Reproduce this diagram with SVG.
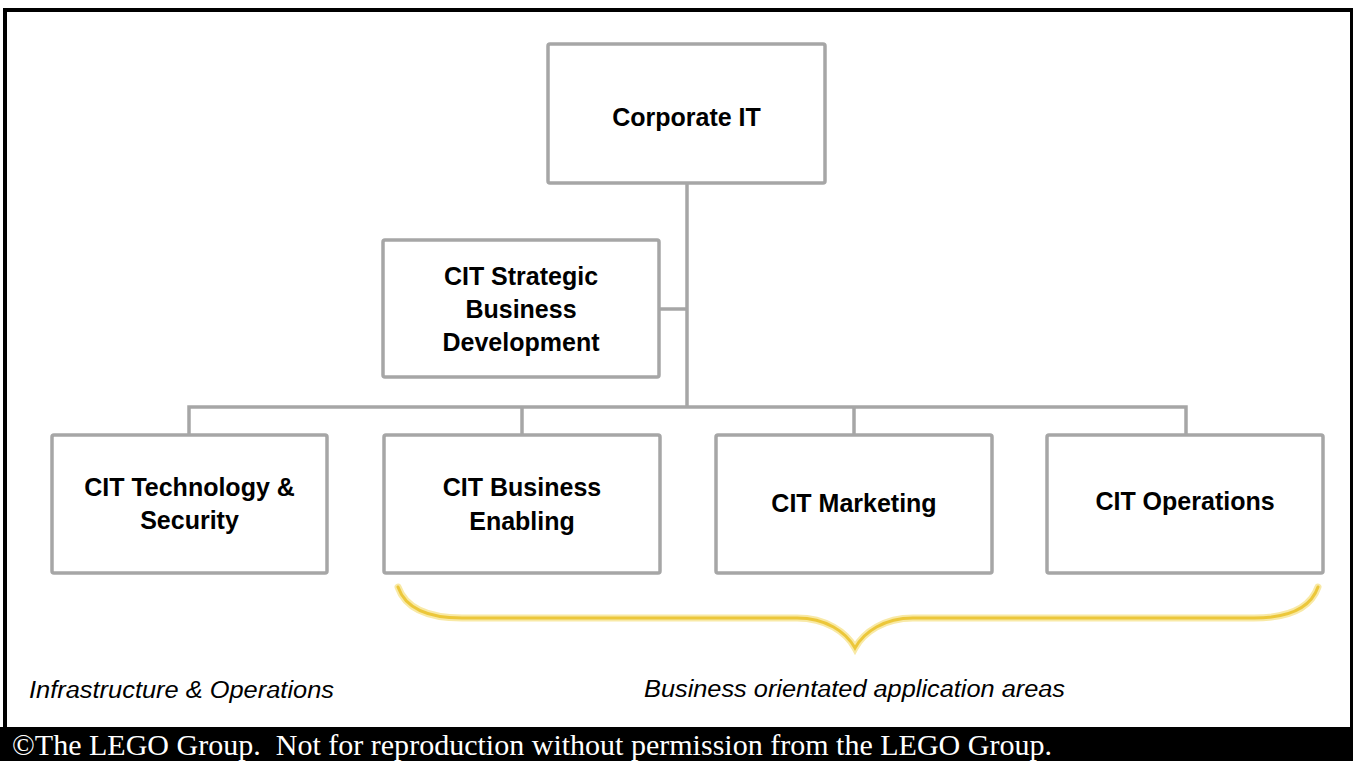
<svg xmlns="http://www.w3.org/2000/svg" width="1353" height="761" viewBox="0 0 1353 761">
<style>
.box{fill:#fff;stroke:#a6a6a6;stroke-width:3.5}
.lbl{font-family:"Liberation Sans",Arial,sans-serif;font-weight:bold;font-size:25px;fill:#000;text-anchor:middle}
.conn{fill:none;stroke:#a6a6a6;stroke-width:3.5}
.ital{font-family:"Liberation Sans",Arial,sans-serif;font-style:italic;font-size:23px;fill:#000}
</style>
<rect x="0" y="0" width="1353" height="761" fill="#fff"/>
<!-- frame -->
<rect x="4" y="8" width="1349" height="4" fill="#000"/>
<rect x="3" y="8" width="4" height="725" fill="#000"/>
<rect x="1350" y="8" width="3" height="725" fill="#000"/>
<rect x="0" y="727" width="1353" height="34" fill="#000"/>
<g id="connectors">
<path class="conn" d="M687 183 V407"/>
<path class="conn" d="M659 309 H687"/>
<path class="conn" d="M189 435 V407 H1186 V435"/>
<path class="conn" d="M522 407 V435"/>
<path class="conn" d="M854 407 V435"/>
</g>
<g id="corporate-it">
<rect class="box" x="548" y="44" width="277" height="139" rx="2"/>
<text class="lbl" x="686.5" y="126">Corporate IT</text>
</g>
<g id="cit-strategic">
<rect class="box" x="383" y="240" width="276" height="137" rx="2"/>
<text class="lbl" x="521" y="285">CIT Strategic</text>
<text class="lbl" x="521" y="318">Business</text>
<text class="lbl" x="521" y="351">Development</text>
</g>
<g id="cit-technology">
<rect class="box" x="52" y="435" width="275" height="138" rx="2"/>
<text class="lbl" x="189.5" y="496">CIT Technology &amp;</text>
<text class="lbl" x="189.5" y="529">Security</text>
</g>
<g id="cit-business-enabling">
<rect class="box" x="384" y="435" width="276" height="138" rx="2"/>
<text class="lbl" x="522" y="496">CIT Business</text>
<text class="lbl" x="522" y="530">Enabling</text>
</g>
<g id="cit-marketing">
<rect class="box" x="716" y="435" width="276" height="138" rx="2"/>
<text class="lbl" x="854" y="512">CIT Marketing</text>
</g>
<g id="cit-operations">
<rect class="box" x="1047" y="435" width="276" height="138" rx="2"/>
<text class="lbl" x="1185" y="510">CIT Operations</text>
</g>
<g id="brace">
<path d="M398 587 C405 607 425 618 462 618 H797 C826 618 846 632 855 648 C864 632 884 618 913 618 H1254 C1291 618 1311 607 1318 587" fill="none" stroke="#f8e9a6" stroke-width="7" stroke-linecap="round"/>
<path d="M398 587 C405 607 425 618 462 618 H797 C826 618 846 632 855 648 C864 632 884 618 913 618 H1254 C1291 618 1311 607 1318 587" fill="none" stroke="#ecc73a" stroke-width="3" stroke-linecap="round"/>
</g>
<text class="ital" x="29" y="698" textLength="305" lengthAdjust="spacingAndGlyphs">Infrastructure &amp; Operations</text>
<text class="ital" x="644" y="697" textLength="421" lengthAdjust="spacingAndGlyphs">Business orientated application areas</text>
<text x="12" y="755" font-family="'Liberation Serif','Times New Roman',serif" font-size="29" fill="#fff" textLength="1040" lengthAdjust="spacingAndGlyphs" xml:space="preserve">©The LEGO Group.  Not for reproduction without permission from the LEGO Group.</text>
</svg>
